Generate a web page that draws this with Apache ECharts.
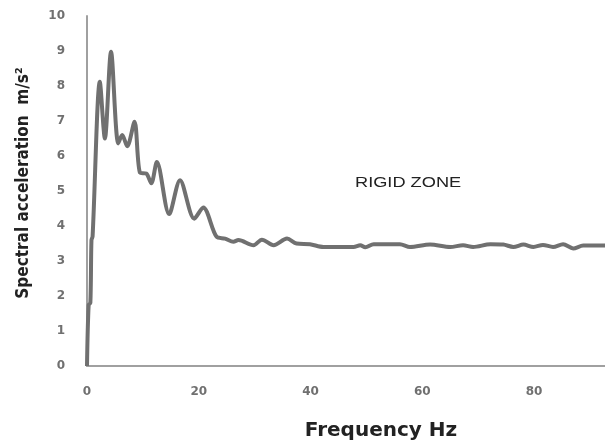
<!DOCTYPE html>
<html>
<head>
<meta charset="utf-8">
<script src="https://cdn.jsdelivr.net/npm/echarts@6/dist/echarts.min.js"></script>
<style>html,body{margin:0;padding:0;background:#fff;}#chart{width:605px;height:440px;}</style>
</head>
<body>
<div id="chart"></div>
<script>
// Frequency (Hz) of each read-off point
var freq = [0, 0.3, 0.6, 0.8, 1.0, 2.3, 3.2, 4.3, 5.6, 6.3, 7.2, 8.5, 9.5, 10.6, 11.5, 12.5, 14.7, 16.65, 19.2, 20.8,
  23.2, 24.7, 26.2, 27.1, 29.8, 31.3, 33.4, 35.8, 37.5, 39.9, 42.3, 47.7, 48.9, 49.8, 51.3, 56.0,
  57.8, 61.4, 65.0, 67.3, 69.1, 72.2, 74.5, 76.3, 78.1, 79.9, 81.6, 83.4, 85.2, 87.0, 88.8, 92.7];
// Spectral acceleration (m/s²)
var accel = [0, 1.75, 1.8, 3.6, 3.7, 8.12, 6.5, 8.98, 6.36, 6.6, 6.28, 6.98, 5.52, 5.5, 5.22, 5.83, 4.34, 5.31, 4.21, 4.53,
  3.69, 3.64, 3.55, 3.6, 3.45, 3.61, 3.45, 3.64, 3.5, 3.48, 3.40, 3.40, 3.45, 3.39, 3.48, 3.48,
  3.40, 3.47, 3.40, 3.45, 3.40, 3.48, 3.47, 3.40, 3.47, 3.40, 3.46, 3.40, 3.48, 3.36, 3.44, 3.44];
var xTicks = [0, 20, 40, 60, 80];
var yTicks = [0, 1, 2, 3, 4, 5, 6, 7, 8, 9, 10];
var zoneLabel = 'RIGID ZONE';

var pts = freq.map(function (f, i) { return [f, accel[i]]; });
var chart = echarts.init(document.getElementById('chart'), null, {renderer: 'canvas'});
chart.setOption({
  animation: false,
  backgroundColor: '#ffffff',
  grid: {left: 87, top: 16, bottom: 74, right: 0, containLabel: false, outerBoundsMode: 'none'},
  xAxis: {
    type: 'value', min: 0, max: 92.7, interval: 20,
    name: 'Frequency Hz', nameLocation: 'middle', nameGap: 55,
    nameTextStyle: {fontFamily: 'DejaVu Sans', fontWeight: 'bold', fontSize: 20, color: '#222', padding: [0, 0, 0, 70]},
    axisLine: {show: true, lineStyle: {color: '#a0a0a0', width: 2}},
    axisTick: {show: false},
    splitLine: {show: false},
    axisLabel: {margin: 20, fontFamily: 'DejaVu Sans', fontWeight: 'bold', fontSize: 12, color: '#707070',
      formatter: function (v) { return xTicks.indexOf(v) >= 0 ? String(v) : ''; }}
  },
  yAxis: {
    type: 'value', min: 0, max: 10, interval: 1,
    name: 'Spectral acceleration  m/s²', nameLocation: 'middle', nameGap: 55, nameRotate: 90,
    nameTextStyle: {fontFamily: '"Liberation Sans Narrow", "DejaVu Sans Condensed", "Liberation Sans", sans-serif',
      fontWeight: 'bold', fontSize: 17, color: '#222', padding: [0, 0, 0, 16]},
    axisLine: {show: true, lineStyle: {color: '#a0a0a0', width: 2}},
    axisTick: {show: false},
    splitLine: {show: false},
    axisLabel: {margin: 22, fontFamily: 'DejaVu Sans', fontWeight: 'bold', fontSize: 12, color: '#707070',
      formatter: function (v) { return yTicks.indexOf(v) >= 0 ? String(v) : ''; }}
  },
  series: [{
    type: 'line', data: pts, showSymbol: false, smooth: 0.3,
    lineStyle: {color: '#707070', width: 4},
    z: 3
  }],
  graphic: [{
    type: 'text', x: 355, y: 176, scaleX: 1.3, scaleY: 1,
    style: {text: zoneLabel, fontFamily: 'Liberation Sans', fontSize: 14, fill: '#222'}
  }]
});
</script>
</body>
</html>
